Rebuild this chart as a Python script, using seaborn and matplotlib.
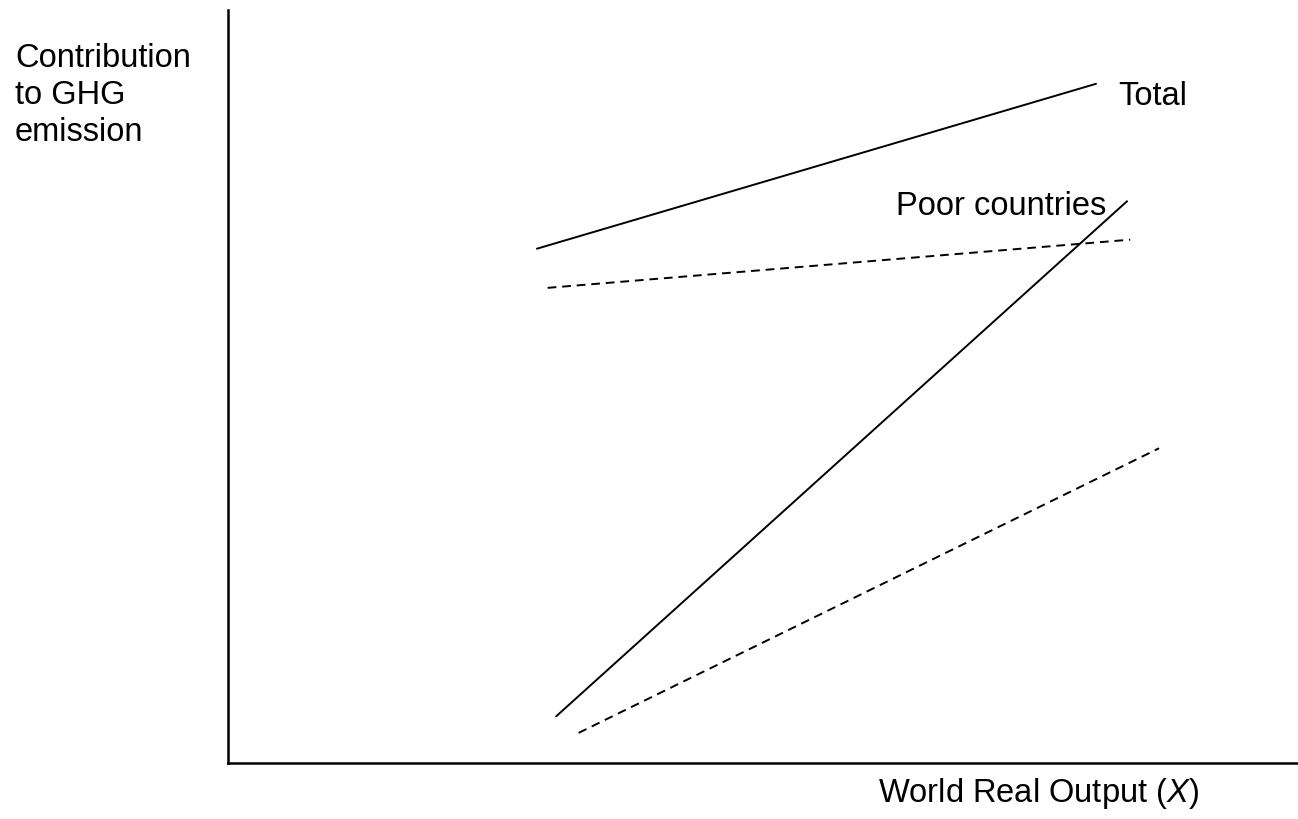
import seaborn as sns
import matplotlib.pyplot as plt
import pandas as pd

# data (arbitrary 0-10 units on both axes)
total_x = [2.89, 8.12]
total_y = [6.83, 9.02]
total_dash_x = [2.99, 8.44]
total_dash_y = [6.31, 6.95]
poor_x = [3.07, 8.41]
poor_y = [0.62, 7.46]
poor_dash_x = [3.28, 8.71]
poor_dash_y = [0.40, 4.18]

sns.set_theme(style="white")
plt.rcParams['font.family'] = ['Liberation Sans', 'DejaVu Sans']
plt.rcParams['mathtext.fontset'] = 'custom'
plt.rcParams['mathtext.rm'] = 'Liberation Sans'
plt.rcParams['mathtext.it'] = 'Liberation Sans:italic'

fig = plt.figure(figsize=(12.98, 8.19), dpi=100)
ax = fig.add_axes([228 / 1298, (819 - 763) / 819, 1069 / 1298, 753 / 819])

lines = [
    (total_x, total_y, "-"),
    (total_dash_x, total_dash_y, (0, (4.5, 3))),
    (poor_x, poor_y, "-"),
    (poor_dash_x, poor_dash_y, (0, (4.5, 3))),
]
for xs, ys, ls in lines:
    df = pd.DataFrame({"x": xs, "y": ys})
    sns.lineplot(data=df, x="x", y="y", ax=ax, color="black", lw=1.4, linestyle=ls)

ax.set_xlim(0, 10)
ax.set_ylim(0, 10)
ax.set_xticks([])
ax.set_yticks([])
ax.set_xlabel("")
ax.set_ylabel("")
sns.despine(ax=ax)
for s in ["left", "bottom"]:
    ax.spines[s].set_color("black")
    ax.spines[s].set_linewidth(1.8)

fs = 23.5
ax.text(8.33, 8.74, "Total", fontsize=fs, va="baseline", ha="left", color="black")
ax.text(6.25, 7.28, "Poor countries", fontsize=fs, va="baseline", ha="left", color="black")
fig.text(15 / 1298, 1 - 43 / 819, "Contribution\nto GHG\nemission", fontsize=fs,
         va="top", ha="left", linespacing=1.24, color="black")
fig.text(878 / 1298, 1 - 802 / 819, r"World Real Output ($\mathit{X}$)", fontsize=fs,
         va="baseline", ha="left", color="black")

fig.savefig("out.png", dpi=100)
